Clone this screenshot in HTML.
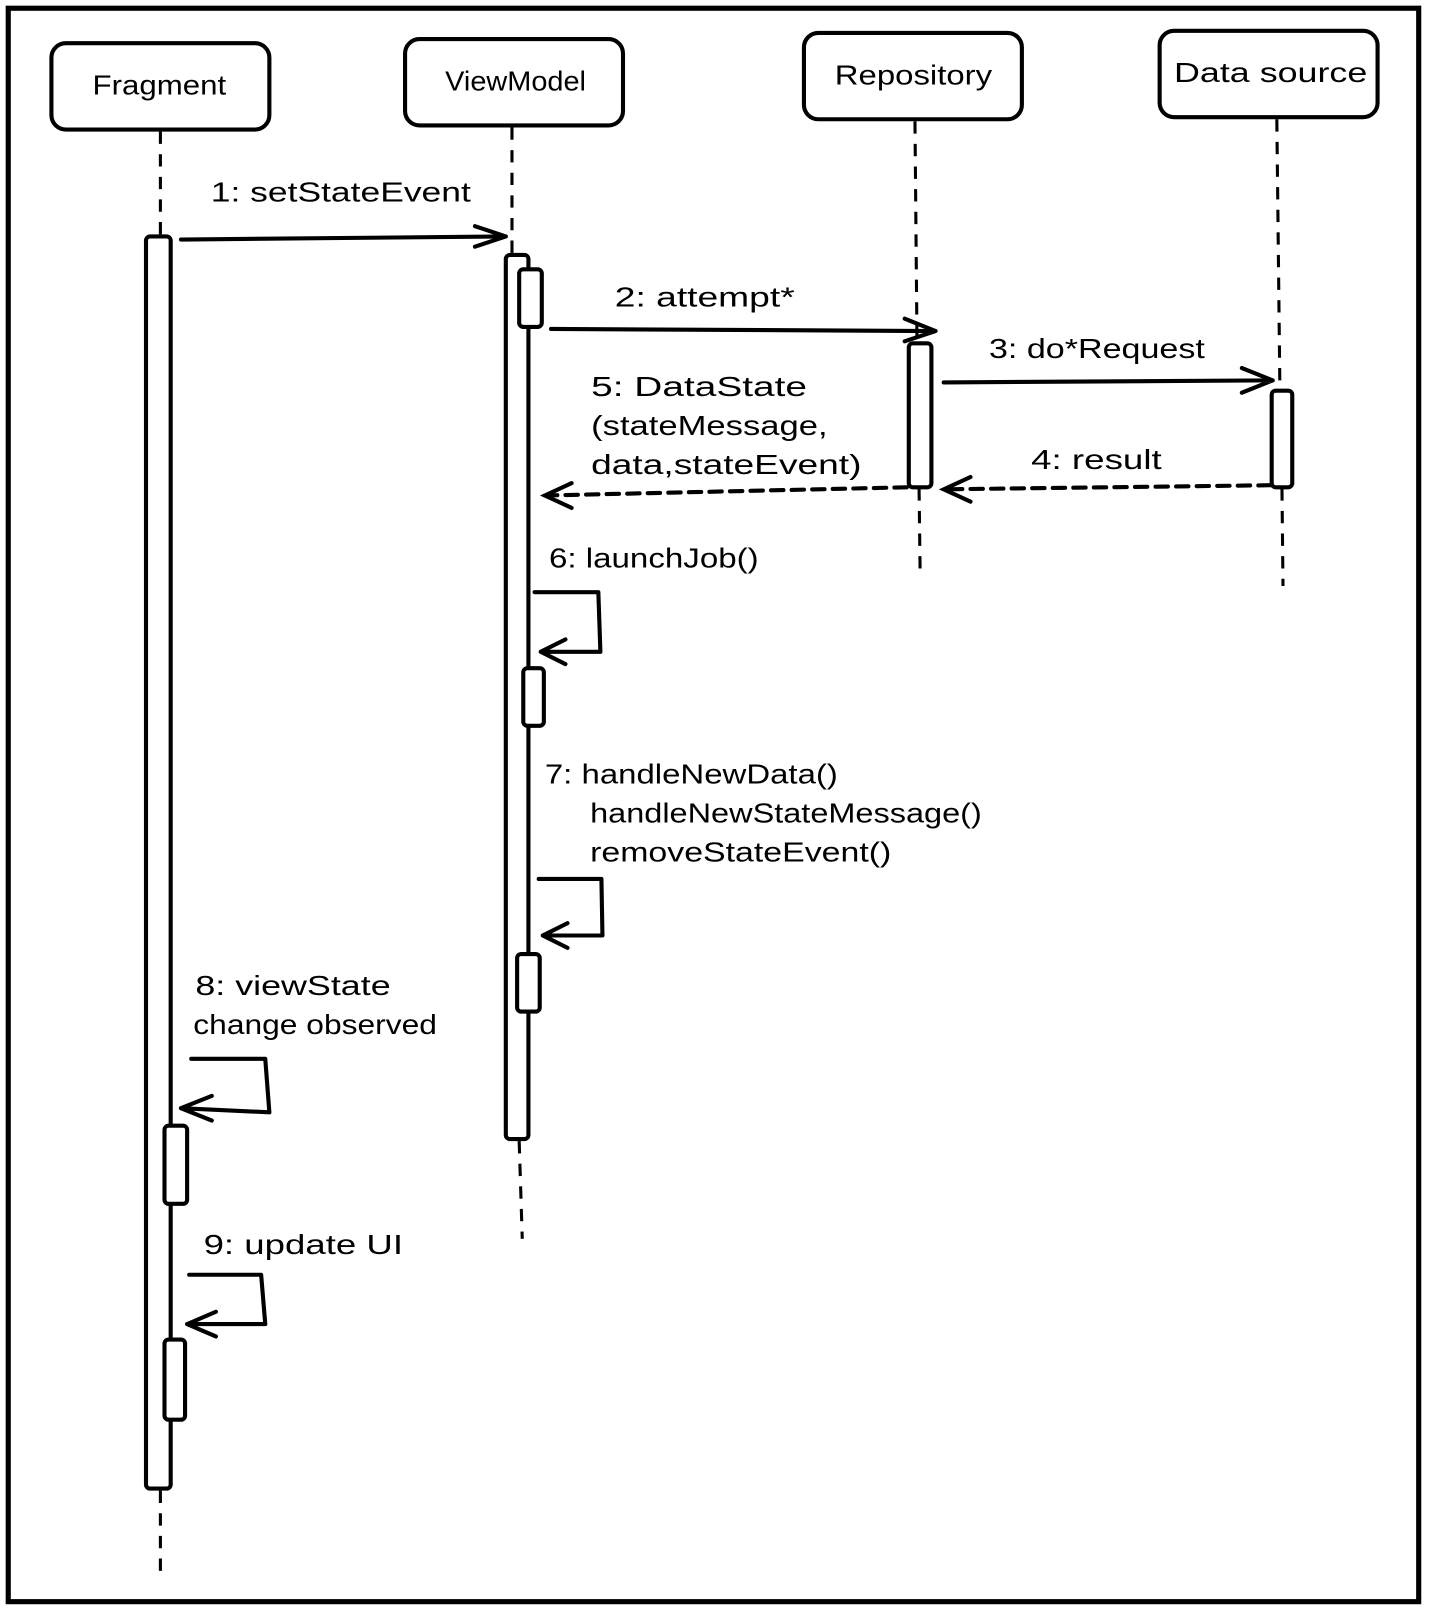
<!DOCTYPE html>
<html><head><meta charset="utf-8"><style>
html,body{margin:0;padding:0;background:#fff}
svg{display:block}
text{font-family:"Liberation Sans",sans-serif;font-size:27px;fill:#000}
</style></head><body>
<svg width="1429" height="1614" viewBox="0 0 1390 1570" xmlns="http://www.w3.org/2000/svg">
<rect width="1390" height="1570" fill="#fff"/>
<rect x="8" y="8" width="1372" height="1550" fill="none" stroke="#000" stroke-width="5"/>
<g fill="#fff" stroke="#000" stroke-width="4">
<rect x="50" y="42" width="212" height="84" rx="14"/>
<rect x="394" y="38" width="212" height="84" rx="14"/>
<rect x="782" y="32" width="212" height="84" rx="14"/>
<rect x="1128" y="30" width="212" height="84" rx="14"/>
</g>
<g lengthAdjust="spacingAndGlyphs">
<text x="90" y="92" textLength="130" lengthAdjust="spacingAndGlyphs">Fragment</text>
<text x="433" y="88" textLength="137" lengthAdjust="spacingAndGlyphs">ViewModel</text>
<text x="812" y="82" textLength="153" lengthAdjust="spacingAndGlyphs">Repository</text>
<text x="1142" y="80" textLength="188" lengthAdjust="spacingAndGlyphs">Data source</text>
</g>
<g stroke="#000" stroke-width="3" stroke-dasharray="12,10" fill="none">
<line x1="156" y1="128" x2="156" y2="230"/>
<line x1="156" y1="1450" x2="156" y2="1530"/>
<line x1="498" y1="124" x2="498" y2="248"/>
<line x1="505" y1="1110" x2="508" y2="1205"/>
<line x1="890" y1="118" x2="892" y2="335"/>
<line x1="894" y1="475" x2="895" y2="555"/>
<line x1="1242" y1="116" x2="1245" y2="380"/>
<line x1="1247" y1="475" x2="1248" y2="570"/>
</g>
<g fill="#fff" stroke="#000" stroke-width="4">
<rect x="142" y="230" width="24" height="1218" rx="4"/>
<rect x="492" y="248" width="22" height="860" rx="4"/>
<rect x="505" y="262" width="22" height="56" rx="4"/>
<rect x="884" y="334" width="22" height="140" rx="4"/>
<rect x="1237" y="380" width="20" height="94" rx="4"/>
<rect x="509" y="650" width="20" height="56" rx="4"/>
<rect x="503" y="928" width="22" height="56" rx="4"/>
<rect x="160" y="1095" width="22" height="76" rx="4"/>
<rect x="160" y="1303" width="20" height="78" rx="4"/>
</g>
<g stroke="#000" stroke-width="4" fill="none" stroke-linecap="round" stroke-linejoin="round">
<path d="M176 233 L492 230 M462 220 L492 230 L462 240"/>
<path d="M536 320 L910 322 M880 310 L910 322 L880 332"/>
<path d="M918 372 L1238 370 M1208 358 L1238 370 L1208 382"/>
<path d="M520 576 L582 576 L584 634 L526 634 M550 622 L526 634 L550 646"/>
<path d="M524 855 L585 855 L586 910 L528 910 M552 898 L528 910 L552 922"/>
<path d="M186 1030 L258 1030 L262 1082 L176 1078 M206 1066 L176 1078 L206 1090"/>
<path d="M184 1240 L254 1240 L258 1288 L182 1288 M210 1276 L182 1288 L210 1300"/>
</g>
<g stroke="#000" stroke-width="4" fill="none" stroke-dasharray="12,8" stroke-linecap="round">
<path d="M1236 472 L918 476"/>
<path d="M882 474 L530 482"/>
</g>
<g stroke="#000" stroke-width="4" fill="none" stroke-linecap="round">
<path d="M944 464 L918 476 L944 488"/>
<path d="M556 470 L530 482 L556 494"/>
</g>
<text x="205" y="196" textLength="253" lengthAdjust="spacingAndGlyphs">1: setStateEvent</text>
<text x="598" y="298" textLength="175" lengthAdjust="spacingAndGlyphs">2: attempt*</text>
<text x="962" y="348" textLength="210" lengthAdjust="spacingAndGlyphs">3: do*Request</text>
<text x="1003" y="456" textLength="127" lengthAdjust="spacingAndGlyphs">4: result</text>
<text x="575" y="385" textLength="210" lengthAdjust="spacingAndGlyphs">5: DataState</text>
<text x="575" y="423" textLength="230" lengthAdjust="spacingAndGlyphs">(stateMessage,</text>
<text x="575" y="461" textLength="263" lengthAdjust="spacingAndGlyphs">data,stateEvent)</text>
<text x="534" y="552" textLength="204" lengthAdjust="spacingAndGlyphs">6: launchJob()</text>
<text x="530" y="762" textLength="285" lengthAdjust="spacingAndGlyphs">7: handleNewData()</text>
<text x="574" y="800" textLength="381" lengthAdjust="spacingAndGlyphs">handleNewStateMessage()</text>
<text x="574" y="838" textLength="293" lengthAdjust="spacingAndGlyphs">removeStateEvent()</text>
<text x="190" y="968" textLength="190" lengthAdjust="spacingAndGlyphs">8: viewState</text>
<text x="188" y="1006" textLength="237" lengthAdjust="spacingAndGlyphs">change observed</text>
<text x="198" y="1220" textLength="194" lengthAdjust="spacingAndGlyphs">9: update UI</text>
</svg>
</body></html>
